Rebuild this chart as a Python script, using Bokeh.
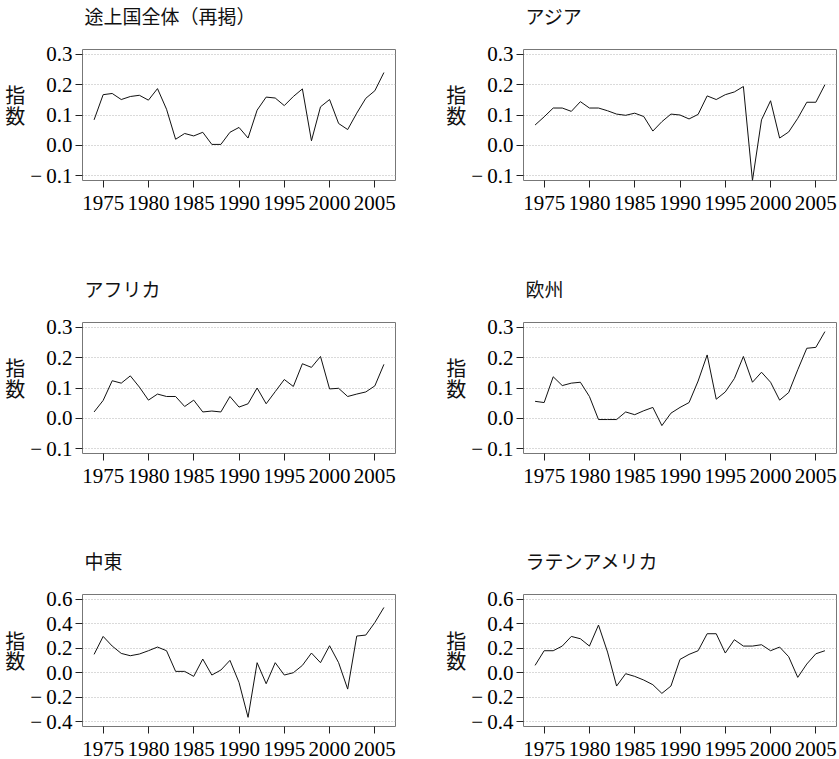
from bokeh.plotting import figure
from bokeh.layouts import column, row
from bokeh.models import Range1d, FixedTicker
from bokeh.embed import file_html
from bokeh.resources import INLINE

# Annual index values, 1974-2006, by region
years = list(range(1974, 2007))

all_developing = [0.084, 0.167, 0.171, 0.151, 0.161, 0.165, 0.149, 0.187, 0.119, 0.020,
                  0.039, 0.031, 0.043, 0.003, 0.003, 0.043, 0.059, 0.024, 0.116, 0.159,
                  0.156, 0.131, 0.161, 0.186, 0.015, 0.127, 0.151, 0.072, 0.052, 0.106,
                  0.155, 0.180, 0.240]
asia = [0.067, 0.094, 0.123, 0.123, 0.112, 0.144, 0.123, 0.123, 0.114, 0.103,
        0.099, 0.106, 0.095, 0.047, 0.078, 0.103, 0.100, 0.087, 0.102, 0.163,
        0.151, 0.167, 0.176, 0.194, -0.116, 0.084, 0.147, 0.024, 0.044, 0.089,
        0.142, 0.142, 0.200]
africa = [0.021, 0.059, 0.124, 0.116, 0.140, 0.103, 0.060, 0.080, 0.072, 0.072,
          0.039, 0.060, 0.021, 0.024, 0.021, 0.072, 0.037, 0.048, 0.100, 0.048,
          0.088, 0.128, 0.105, 0.180, 0.168, 0.204, 0.097, 0.099, 0.072, 0.080,
          0.087, 0.107, 0.178]
europe = [0.056, 0.052, 0.137, 0.108, 0.116, 0.119, 0.072, -0.004, -0.004, -0.004,
          0.021, 0.012, 0.025, 0.036, -0.024, 0.017, 0.036, 0.052, 0.123, 0.209,
          0.063, 0.087, 0.131, 0.204, 0.119, 0.152, 0.119, 0.060, 0.085, 0.160,
          0.231, 0.234, 0.286]
middle_east = [0.150, 0.297, 0.218, 0.158, 0.139, 0.153, 0.180, 0.210, 0.180, 0.011,
               0.011, -0.030, 0.112, -0.019, 0.022, 0.101, -0.079, -0.365, 0.082, -0.090,
               0.082, -0.019, 0.000, 0.060, 0.161, 0.082, 0.221, 0.082, -0.134, 0.300,
               0.308, 0.411, 0.534]
latin_america = [0.060, 0.180, 0.180, 0.218, 0.297, 0.278, 0.218, 0.390, 0.169, -0.109,
                 -0.008, -0.030, -0.060, -0.098, -0.169, -0.109, 0.109, 0.150, 0.180, 0.319,
                 0.319, 0.161, 0.270, 0.218, 0.218, 0.229, 0.180, 0.210, 0.131, -0.038,
                 0.071, 0.155, 0.180]

titles = ["途上国全体（再掲）", "アジア", "アフリカ", "欧州", "中東", "ラテンアメリカ"]
series = [all_developing, asia, africa, europe, middle_east, latin_america]
# trailing blank lines leave a gap between each heading/caption and the frame
y_title = "指\n数\n\u3000"
BLANK_LINE = "\n\u3000"

x_ticks = [1975, 1980, 1985, 1990, 1995, 2000, 2005]
y_ticks_small = [-0.1, 0.0, 0.1, 0.2, 0.3]
y_labels_small = ["\u2212\u20090.1", "0.0", "0.1", "0.2", "0.3"]
y_ticks_large = [-0.4, -0.2, 0.0, 0.2, 0.4, 0.6]
y_labels_large = ["\u2212\u20090.4", "\u2212\u20090.2", "0.0", "0.2", "0.4", "0.6"]

JP_FONT = "Noto Sans CJK JP"
NUM_FONT = "Liberation Serif"


def pad(lo, hi, frac=0.04):
    d = (hi - lo) * frac
    return lo - d, hi + d


def panel(title, values, col, rowi):
    width = 441 if col == 0 else 398
    height = 215 if rowi == 2 else 272
    top = 49 if rowi == 0 else 50
    frame_h = 132 if rowi == 2 else 131
    if rowi < 2:
        yt, yl, ylim = y_ticks_small, y_labels_small, (-0.1, 0.3)
    else:
        yt, yl, ylim = y_ticks_large, y_labels_large, (-0.4, 0.6)

    p = figure(width=width, height=height, output_backend="svg", toolbar_location=None,
               min_border_left=82, min_border_right=46 if col == 0 else 3,
               min_border_top=top, min_border_bottom=height - top - frame_h,
               x_range=Range1d(*pad(1974, 2006)), y_range=Range1d(*pad(*ylim)))
    p.background_fill_color = "white"
    p.border_fill_color = "white"
    p.outline_line_color = "#777777"
    p.outline_line_width = 1

    p.title.text = title + BLANK_LINE
    p.title.align = "left"
    p.title.vertical_align = "top"
    p.title.text_font = JP_FONT
    p.title.text_font_size = "19px"
    p.title.text_font_style = "normal"
    p.title.text_line_height = 0.7
    p.title.text_color = "#111111"
    p.title.standoff = 0
    p.title.offset = 2

    p.line(years, values, line_color="#111111", line_width=1)

    p.xgrid.grid_line_color = None
    p.ygrid.grid_line_color = "#b5b5b5"
    p.ygrid.grid_line_dash = "1 2"
    p.ygrid.grid_line_width = 1

    for ax in (p.xaxis[0], p.yaxis[0]):
        ax.axis_line_color = None
        ax.major_tick_line_color = "#222222"
        ax.major_tick_in = 0
        ax.major_tick_out = 7
        ax.minor_tick_line_color = None
        ax.major_label_text_font = NUM_FONT
        ax.major_label_text_font_size = "21px"
        ax.major_label_text_color = "#000000"

    p.xaxis.ticker = FixedTicker(ticks=x_ticks)
    p.xaxis.major_label_standoff = 8

    p.yaxis.ticker = FixedTicker(ticks=yt)
    p.yaxis.major_label_overrides = {t: s for t, s in zip(yt, yl)}
    p.yaxis.major_label_standoff = 3
    p.yaxis.axis_label = y_title
    p.yaxis.axis_label_orientation = "horizontal"
    p.yaxis.axis_label_text_font = JP_FONT
    p.yaxis.axis_label_text_font_size = "20px"
    p.yaxis.axis_label_text_font_style = "normal"
    p.yaxis.axis_label_text_line_height = 0.7
    p.yaxis.axis_label_text_color = "#111111"
    p.yaxis.axis_label_standoff = 2
    return p


figs = [panel(t, v, i % 2, i // 2) for i, (t, v) in enumerate(zip(titles, series))]
layout = column(row(figs[0], figs[1]), row(figs[2], figs[3]), row(figs[4], figs[5]))

open("out.html", "w").write(file_html(layout, INLINE))
